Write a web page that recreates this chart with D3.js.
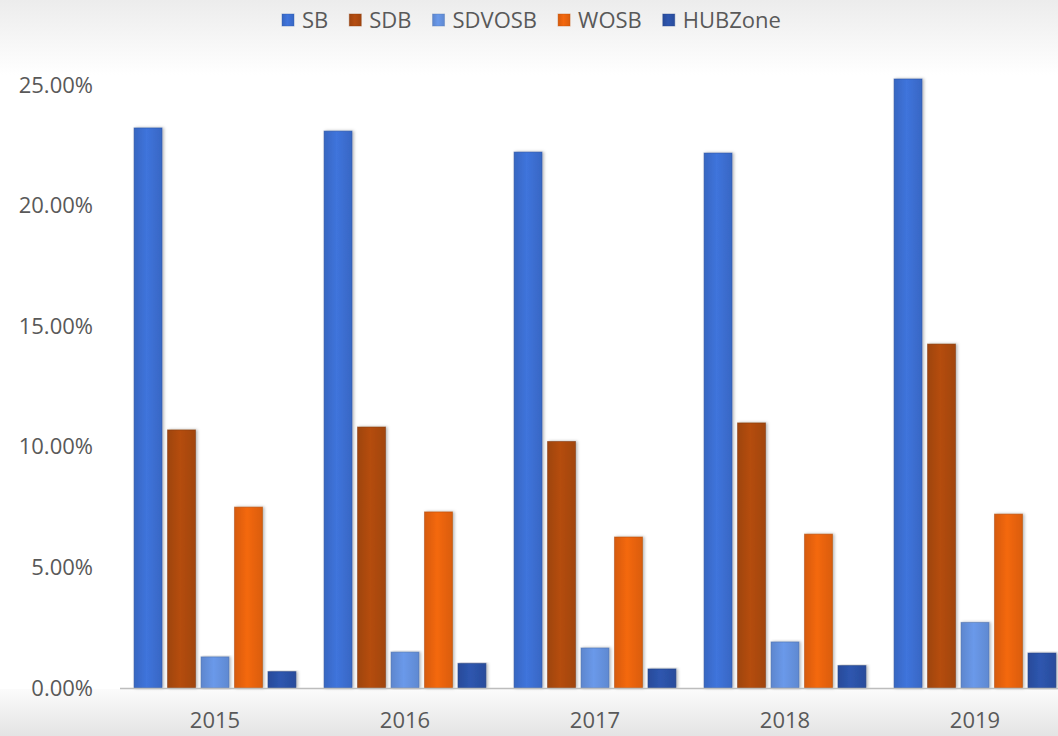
<!DOCTYPE html>
<html>
<head>
<meta charset="utf-8">
<script src="https://cdn.jsdelivr.net/npm/d3@7"></script>
<style>
  html, body { margin: 0; padding: 0; background: #fff; }
  svg { display: block; font-family: "Open Sans", "Noto Sans", sans-serif; }
</style>
</head>
<body>
<svg id="chart" width="1058" height="736"></svg>
<script>
// data (percent)
var years = ["2015", "2016", "2017", "2018", "2019"]
var seriesNames = ["SB", "SDB", "SDVOSB", "WOSB", "HUBZone"]
var sb = [23.22, 23.09, 22.22, 22.18, 25.25]
var sdb = [10.70, 10.82, 10.22, 10.99, 14.26]
var sdvosb = [1.29, 1.49, 1.66, 1.91, 2.72]
var wosb = [7.50, 7.30, 6.26, 6.38, 7.21]
var hubzone = [0.68, 1.02, 0.79, 0.93, 1.45]
var yTicks = [0, 5, 10, 15, 20, 25]

var values = { SB: sb, SDB: sdb, SDVOSB: sdvosb, WOSB: wosb, HUBZone: hubzone }
var colors = {
  SB: "#3c6fd3",
  SDB: "#ad4a10",
  SDVOSB: "#6693e0",
  WOSB: "#ea640d",
  HUBZone: "#2c52a8"
}

var width = 1058, height = 736
var svg = d3.select("#chart")
var defs = svg.append("defs")

// background bands
var topGrad = defs.append("linearGradient").attr("id", "topBg")
  .attr("x1", 0).attr("y1", 0).attr("x2", 0).attr("y2", 1)
topGrad.append("stop").attr("offset", "0%").attr("stop-color", "#ececec")
topGrad.append("stop").attr("offset", "100%").attr("stop-color", "#ffffff")
var botGrad = defs.append("linearGradient").attr("id", "botBg")
  .attr("x1", 0).attr("y1", 0).attr("x2", 0).attr("y2", 1)
botGrad.append("stop").attr("offset", "0%").attr("stop-color", "#fbfbfb")
botGrad.append("stop").attr("offset", "100%").attr("stop-color", "#e4e4e4")

svg.append("rect").attr("x", 0).attr("y", 0).attr("width", width).attr("height", 75)
  .attr("fill", "url(#topBg)")
svg.append("rect").attr("x", 0).attr("y", 689).attr("width", width).attr("height", height - 689)
  .attr("fill", "url(#botBg)")

// bar gradients
seriesNames.forEach(function (s) {
  var c = d3.color(colors[s])
  var g = defs.append("linearGradient").attr("id", "g-" + s)
    .attr("x1", 0).attr("y1", 0).attr("x2", 1).attr("y2", 0)
  g.append("stop").attr("offset", "0%").attr("stop-color", c.darker(0.25))
  g.append("stop").attr("offset", "45%").attr("stop-color", c.brighter(0.12))
  g.append("stop").attr("offset", "100%").attr("stop-color", c.darker(0.2))
})

var shadow = defs.append("filter").attr("id", "shadow")
  .attr("x", "-30%").attr("y", "-5%").attr("width", "160%").attr("height", "110%")
shadow.append("feDropShadow").attr("dx", 1.5).attr("dy", 0).attr("stdDeviation", 1.5)
  .attr("flood-color", "#000").attr("flood-opacity", 0.3)

// scales
var x0 = d3.scaleBand().domain(years).range([120, 1070]).paddingInner(0)
var x1 = d3.scaleBand().domain(seriesNames).range([0, x0.bandwidth()])
  .paddingInner(0.165).paddingOuter(0.42)
var y = d3.scaleLinear().domain([0, 25]).range([688, 85])

// y axis labels
var yAxis = d3.axisLeft(y).tickValues(yTicks)
  .tickFormat(function (d) { return d.toFixed(2) + "%" })
  .tickSize(0).tickPadding(0)
var yg = svg.append("g").attr("transform", "translate(93,0)").call(yAxis)
yg.select(".domain").remove()
yg.selectAll("text").attr("font-size", 22).attr("fill", "#595959")
  .attr("font-family", "'Open Sans', 'Noto Sans', sans-serif")

// bars
var groups = svg.append("g").selectAll("g").data(years).join("g")
  .attr("transform", function (d) { return "translate(" + x0(d) + ",0)" })

groups.selectAll("rect")
  .data(function (yr, i) {
    return seriesNames.map(function (s) { return { s: s, v: values[s][i] } })
  })
  .join("rect")
  .attr("x", function (d) { return x1(d.s) })
  .attr("width", x1.bandwidth())
  .attr("y", function (d) { return y(d.v) })
  .attr("height", function (d) { return y(0) - y(d.v) })
  .attr("fill", function (d) { return "url(#g-" + d.s + ")" })
  .attr("stroke", function (d) { return d3.color(colors[d.s]).darker(0.8) })
  .attr("stroke-opacity", 0.55)
  .attr("stroke-width", 1)
  .attr("filter", "url(#shadow)")

// x axis
var xAxis = d3.axisBottom(x0).tickSize(0).tickPadding(0)
var xg = svg.append("g").attr("transform", "translate(0,688)").call(xAxis)
xg.select(".domain").attr("stroke", "#bdbdbd").attr("stroke-width", 1.5)
  .attr("d", "M120,0.5H1058")
xg.selectAll("text").attr("font-size", 22).attr("fill", "#595959")
  .attr("y", 40).attr("dy", null)
  .attr("font-family", "'Open Sans', 'Noto Sans', sans-serif")

// legend
var legend = svg.append("g").attr("transform", "translate(282,0)")
var lx = 0
seriesNames.forEach(function (s) {
  var item = legend.append("g").attr("transform", "translate(" + lx + ",0)")
  item.append("rect").attr("x", 0).attr("y", 14).attr("width", 12).attr("height", 12)
    .attr("fill", "url(#g-" + s + ")")
    .attr("stroke", d3.color(colors[s]).darker(0.6)).attr("stroke-opacity", 0.4)
  var t = item.append("text").attr("x", 20).attr("y", 28)
    .attr("font-size", 22).attr("fill", "#595959").text(s)
  lx += 20 + t.node().getComputedTextLength() + 21
})
</script>
</body>
</html>
